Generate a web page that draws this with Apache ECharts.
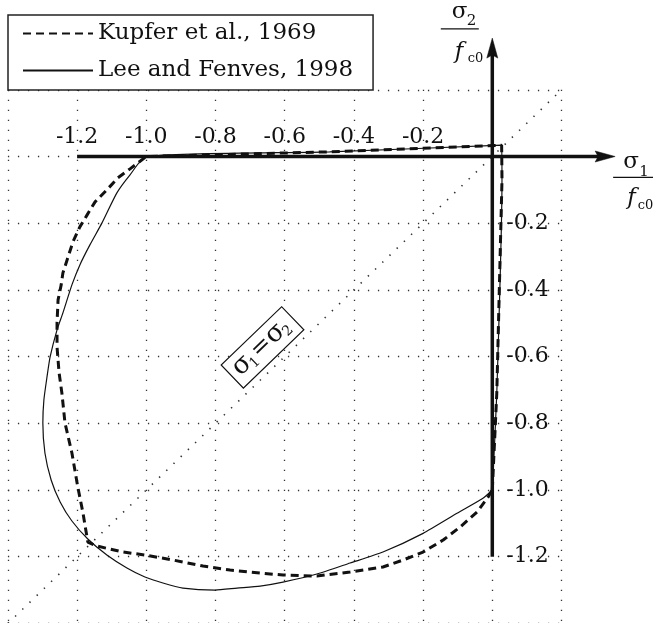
<!DOCTYPE html>
<html>
<head>
<meta charset="utf-8">
<script src="https://cdn.jsdelivr.net/npm/echarts@6/dist/echarts.min.js"></script>
<style>
  html, body { margin: 0; padding: 0; background: #fff; }
  #chart { width: 653px; height: 623px; }
</style>
</head>
<body>
<div id="chart"></div>
<script>
// Biaxial strength envelope of concrete, both principal stresses normalised by f_c0.

const seriesNames = ['Kupfer et al., 1969', 'Lee and Fenves, 1998'];

// Kupfer et al. (1969) test envelope, closed path starting at (0, -1)
const kupferX = [0, 0.013, 0.028, 0.027, -0.47, -1.0,
  -1.047, -1.082, -1.114, -1.148, -1.171, -1.192, -1.212, -1.226, -1.241, -1.246,
  -1.255, -1.258, -1.258, -1.252, -1.244, -1.235, -1.215, -1.198, -1.183, -1.169,
  -1.143, -1.067, -1.004, -0.923, -0.836, -0.758, -0.671, -0.605, -0.507, -0.411,
  -0.316, -0.258, -0.200, -0.142, -0.093, -0.044, -0.012, 0];
const kupferY = [-1.0, -0.709, -0.07, 0.034, 0.014, 0,
  -0.037, -0.064, -0.100, -0.136, -0.175, -0.211, -0.256, -0.301, -0.349, -0.385,
  -0.430, -0.499, -0.571, -0.649, -0.709, -0.799, -0.889, -0.991, -1.069, -1.156,
  -1.168, -1.186, -1.195, -1.210, -1.228, -1.240, -1.249, -1.255, -1.258, -1.246,
  -1.231, -1.210, -1.186, -1.150, -1.111, -1.066, -1.021, -1.0];

// Lee and Fenves (1998) plastic-damage model envelope
const leeX = [0, 0.013, 0.028, 0.027, -0.47, -1.0,
  -1.047, -1.085, -1.128, -1.163, -1.192, -1.215, -1.241, -1.258, -1.278, -1.287,
  -1.296, -1.299, -1.293, -1.275, -1.249, -1.215, -1.169, -1.114, -1.056, -1.004,
  -0.952, -0.894, -0.801, -0.738, -0.671, -0.605, -0.507, -0.411, -0.316, -0.200,
  -0.102, -0.027, 0];
const leeY = [-1.0, -0.709, -0.07, 0.034, 0.014, 0,
  -0.055, -0.109, -0.199, -0.265, -0.325, -0.385, -0.469, -0.520, -0.601, -0.661,
  -0.730, -0.799, -0.889, -0.970, -1.036, -1.093, -1.147, -1.195, -1.234, -1.261,
  -1.279, -1.294, -1.300, -1.294, -1.288, -1.276, -1.252, -1.219, -1.186, -1.130,
  -1.070, -1.025, -1.0];

// Tick labels written along each axis
const xTickLabels = ['-1.2', '-1.0', '-0.8', '-0.6', '-0.4', '-0.2'];
const yTickLabels = ['-0.2', '-0.4', '-0.6', '-0.8', '-1.0', '-1.2'];

// Axis extents
const axisMin = -1.4, axisMax = 0.2, axisStep = 0.2;
const axisLineStart = -1.2;   // where the drawn stress axes begin
const axisLineEnd = 0.355;    // arrow tips
const diagonalEnds = [-1.4, 0.2];
const equalStressAnchor = -0.62; // point on sigma1 = sigma2 where its tag sits

const FONT = 'DejaVu Serif';
const ink = '#111';
const gridDots = { color: '#333', width: 1.3, type: [1.3, 8.7] };
const diagDots = { color: '#333', width: 1.6, type: [1.4, 8.6] };

// grid box in pixels
const G = { left: 7.9, top: 89.8, width: 553.6, height: 533.6 };
const span = axisMax - axisMin;

const pairs = (xs, ys) => xs.map((x, i) => [x, ys[i]]);
const onlyListed = list => v => {
  const s = (Math.abs(v) < 1e-9 ? 0 : v).toFixed(1);
  return list.includes(s) ? s : '';
};

const chart = echarts.init(document.getElementById('chart'), null, { renderer: 'canvas' });

const option = {
  animation: false,
  backgroundColor: '#fff',
  grid: { left: G.left, top: G.top, width: G.width, height: G.height, containLabel: false, outerBoundsMode: 'none' },
  legend: {
    data: seriesNames,
    orient: 'vertical',
    left: 8, top: 15,
    padding: [7, 20, 8, 14],
    itemGap: 14, itemWidth: 70, itemHeight: 14,
    borderColor: '#222', borderWidth: 1.5, borderRadius: 0,
    backgroundColor: '#fff',
    selectedMode: false,
    itemStyle: { opacity: 0 },
    textStyle: { fontFamily: FONT, fontSize: 23, color: ink }
  },
  // the sigma1 axis runs along sigma2 = 0: a top axis shifted down onto that line
  xAxis: {
    type: 'value', min: axisMin, max: axisMax, interval: axisStep,
    position: 'top', offset: -G.height * axisMax / span,
    axisLine: { show: false, onZero: false },
    axisTick: { show: false },
    axisLabel: { margin: 8, formatter: onlyListed(xTickLabels),
      fontFamily: FONT, fontSize: 22, color: ink, showMinLabel: true, showMaxLabel: true },
    splitLine: { show: true, lineStyle: gridDots }
  },
  // the sigma2 axis runs along sigma1 = 0: a right axis shifted left onto that line
  yAxis: {
    type: 'value', min: axisMin, max: axisMax, interval: axisStep,
    position: 'right', offset: -G.width * axisMax / span,
    axisLine: { show: false, onZero: false },
    axisTick: { show: false },
    axisLabel: { margin: 14, formatter: onlyListed(yTickLabels),
      fontFamily: FONT, fontSize: 22, color: ink, showMinLabel: true, showMaxLabel: true },
    splitLine: { show: true, lineStyle: gridDots }
  },
  series: [
    {
      name: 'sigma1 = sigma2', type: 'line', silent: true, z: 1,
      data: [[diagonalEnds[0], diagonalEnds[0]], [diagonalEnds[1], diagonalEnds[1]]],
      symbol: 'none', lineStyle: diagDots
    },
    {
      name: seriesNames[0], type: 'line', z: 3,
      data: pairs(kupferX, kupferY), symbol: 'none',
      lineStyle: { color: ink, width: 3, type: [8, 5] }, itemStyle: { color: ink }
    },
    {
      name: seriesNames[1], type: 'line', z: 3, smooth: 0.2,
      data: pairs(leeX, leeY), symbol: 'none',
      lineStyle: { color: ink, width: 1.2 }, itemStyle: { color: ink }
    }
  ]
};

chart.setOption(option);

// ---- stress axes, arrows and annotations, placed from the axes' own pixel mapping ----
const toPx = p => chart.convertToPixel({ gridIndex: 0 }, p);

function txt(x, y, s, size, italic) {
  const font = (italic ? 'italic ' : '') + size + 'px "' + FONT + '"';
  return {
    type: 'text', x: x, y: y, silent: true,
    style: { text: s, fill: ink, font: font, fontFamily: FONT, fontSize: size,
      fontStyle: italic ? 'italic' : 'normal',
      align: 'left', verticalAlign: 'middle', textAlign: 'left', textVerticalAlign: 'middle' }
  };
}
function bar(x1, x2, y) {
  return { type: 'line', silent: true, shape: { x1: x1, y1: y, x2: x2, y2: y },
    style: { stroke: ink, lineWidth: 1.2 } };
}
function stressAxis(from, tip, z) {
  const dx = tip[0] - from[0], dy = tip[1] - from[1];
  const len = Math.hypot(dx, dy), ux = dx / len, uy = dy / len;
  const headLen = 20, headHalf = 5.5, notch = 3;
  const base = [tip[0] - ux * headLen, tip[1] - uy * headLen];
  return [
    { type: 'line', silent: true, z: z,
      shape: { x1: from[0], y1: from[1], x2: base[0] + ux * notch, y2: base[1] + uy * notch },
      style: { stroke: ink, lineWidth: 3.5 } },
    { type: 'polygon', silent: true, z: z,
      shape: { points: [
        tip,
        [base[0] - uy * headHalf, base[1] + ux * headHalf],
        [base[0] + ux * notch, base[1] + uy * notch],
        [base[0] + uy * headHalf, base[1] - ux * headHalf]
      ] },
      style: { fill: ink, stroke: ink, lineWidth: 0.5 } }
  ];
}

const xFrom = toPx([axisLineStart, 0]);
const xTip = toPx([axisLineEnd, 0]);
const yFrom = toPx([0, axisLineStart]);
const yTip = toPx([0, axisLineEnd]);

// sigma_1 / f_c0 beside the horizontal arrow
const xName = {
  type: 'group', x: xTip[0], y: xTip[1], silent: true,
  children: [
    txt(8, 5.6, 'σ', 23), txt(24, 15.3, '1', 15),
    bar(-2, 38, 20.8),
    txt(12, 41.6, 'f', 23, true), txt(22.5, 49.3, 'c0', 13)
  ]
};
// sigma_2 / f_c0 beside the vertical arrow
const yName = {
  type: 'group', x: yTip[0], y: yTip[1], silent: true,
  children: [
    txt(-40.5, -25.9, 'σ', 23), txt(-25.5, -16.5, '2', 15),
    bar(-51.5, -13.5, -9.3),
    txt(-37.5, 14.4, 'f', 23, true), txt(-24.5, 20.5, 'c0', 13)
  ]
};

// tag on the equal-stress diagonal
const dA = toPx([diagonalEnds[0], diagonalEnds[0]]);
const dB = toPx([diagonalEnds[1], diagonalEnds[1]]);
const ang = Math.atan2(dA[1] - dB[1], dB[0] - dA[0]);
const anchor = toPx([equalStressAnchor, equalStressAnchor]);
const lift = 22;
const tagCentre = [anchor[0] - lift * Math.sin(ang), anchor[1] - lift * Math.cos(ang)];
const tag = {
  type: 'group', x: tagCentre[0], y: tagCentre[1], rotation: ang, silent: true, z: 10,
  children: [
    { type: 'rect', shape: { x: -42, y: -16, width: 84, height: 32 },
      style: { fill: '#fff', stroke: ink, lineWidth: 1.2 } },
    txt(-36, -1, 'σ', 26), txt(-20.5, 6, '1', 14),
    txt(-10.5, -1, '=', 24),
    txt(10, -1, 'σ', 26), txt(25.5, 6, '2', 14)
  ]
};

chart.setOption({
  graphic: [].concat(stressAxis(xFrom, xTip, 20), stressAxis(yFrom, yTip, 20), [xName, yName, tag])
});
</script>
</body>
</html>
